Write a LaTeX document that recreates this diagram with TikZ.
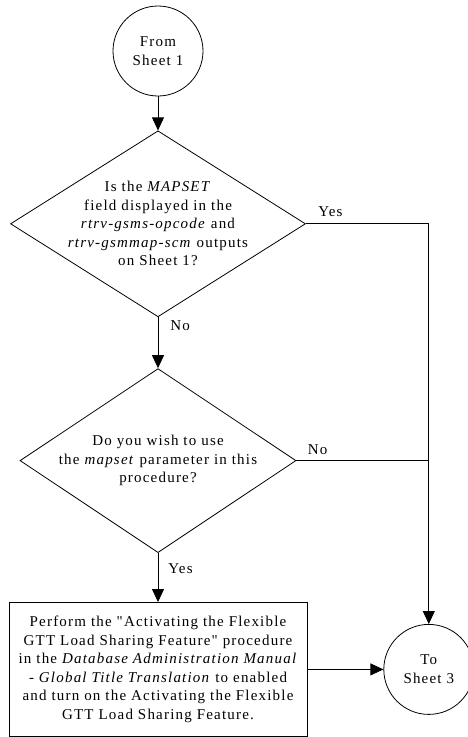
\documentclass[tikz,border=0pt]{standalone}
\usepackage{fontspec}
\setmainfont{Liberation Serif}[LetterSpace=8, Ligatures=TeXOff]
\usetikzlibrary{positioning,arrows.meta,shapes.geometric}

\begin{document}
\begin{tikzpicture}[
  x=1pt, y=1pt,
  every node/.style={font=\fontsize{15}{18.5}\selectfont},
  terminal/.style={draw, circle, minimum size=90pt, inner sep=0pt, align=center},
  decision/.style={draw, diamond, inner sep=0pt},
  task/.style={draw, rectangle, minimum width=298pt, minimum height=134pt, inner sep=0pt, align=center},
  lbl/.style={inner sep=0pt},
  arr/.style={-{Triangle[length=13pt,width=12pt]}, line width=0.8pt},
  line/.style={line width=0.8pt},
]
\useasboundingbox (0,0) rectangle (468,-737);
\node[terminal, line width=0.8pt] (from) at (158,-51) {From\\Sheet 1};
\node[decision, line width=0.8pt, minimum width=295pt, minimum height=186pt, below=34pt of from] (mapset) {};
\node[align=center] (mapsettxt) at (mapset) {Is the \textit{MAPSET}\\ field displayed in the\\ \textit{rtrv-gsms-opcode} and\\ \textit{rtrv-gsmmap-scm} outputs\\ on Sheet 1?};
\node[decision, line width=0.8pt, minimum width=276pt, minimum height=184pt, below=51pt of mapset] (usemapset) {};
\node[align=center] (usemapsettxt) at (usemapset) {Do you wish to use\\ the \textit{mapset} parameter in this\\ procedure?};
\node[task, line width=0.8pt, below=49pt of usemapset] (activate) {Perform the "Activating the Flexible\\ GTT Load Sharing Feature" procedure\\ in the \textit{Database Administration Manual}\\ - \textit{Global Title Translation} to enabled\\ and turn on the Activating the Flexible\\ GTT Load Sharing Feature.};
\node[terminal, line width=0.8pt, right=76pt of activate] (sheet3) {To\\Sheet 3};

\draw[arr] (from) -- (mapset);
\draw[arr] (mapset) -- node[lbl, pos=0, anchor=north west, xshift=12pt, yshift=-3pt] {No} (usemapset);
\draw[arr] (mapset.east) -| node[lbl, pos=0, anchor=south west, xshift=12pt, yshift=7pt] {Yes} (sheet3.north);
\draw[line] (usemapset.east) -- node[lbl, pos=0, anchor=south west, xshift=11pt, yshift=6pt] {No} (usemapset.east -| sheet3.north);
\draw[arr] (usemapset) -- node[lbl, pos=0, anchor=north west, xshift=10pt, yshift=-10pt] {Yes} (activate);
\draw[arr] (activate) -- (sheet3);
\end{tikzpicture}
\end{document}
